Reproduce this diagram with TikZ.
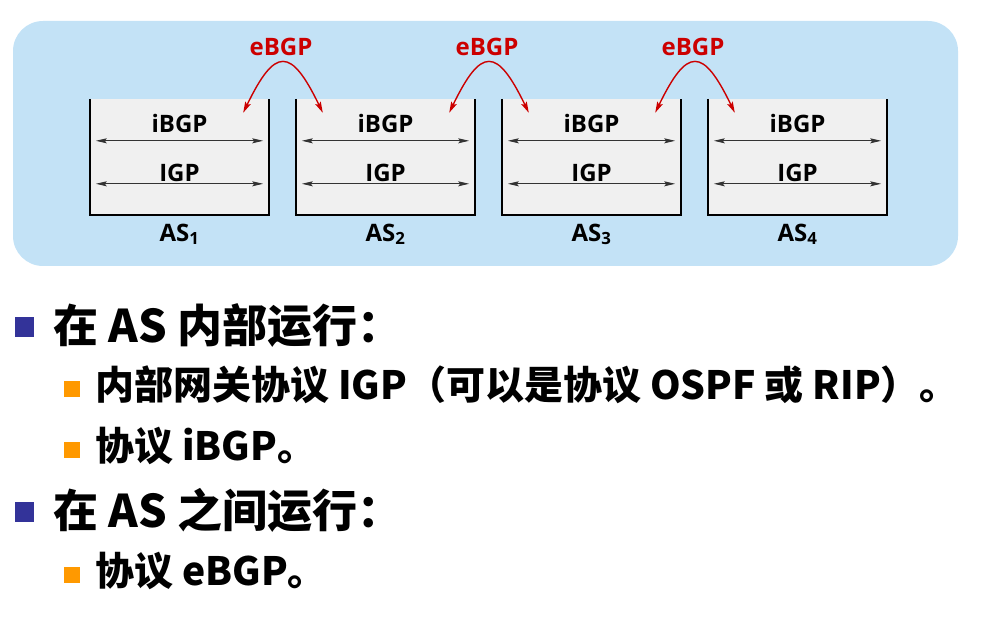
\documentclass[tikz,border=0pt]{standalone}
\usepackage{fontspec}
\newfontfamily\cjk{Noto Sans CJK SC}
\newfontfamily\diag{Open Sans}
\definecolor{asblue}{RGB}{195,226,246}
\definecolor{asgray}{RGB}{240,240,240}
\definecolor{asred}{RGB}{204,0,0}
\definecolor{asnavy}{RGB}{51,51,153}
\definecolor{asorange}{RGB}{255,153,0}
\usetikzlibrary{arrows.meta,calc}

\begin{document}
\begin{tikzpicture}[x=1pt, y=-1pt,
  asbox/.style={minimum width=179pt, minimum height=116pt, inner sep=0pt, fill=asgray},
  boxline/.style={black, line width=2pt},
  inarrow/.style={{Stealth[length=11pt,width=5pt,inset=2pt]}-{Stealth[length=11pt,width=5pt,inset=2pt]}, black!80, line width=0.9pt},
  ebgparrow/.style={{Stealth[length=11pt,width=6pt,inset=2pt]}-{Stealth[length=11pt,width=6pt,inset=2pt]}, asred, line width=1.4pt},
  protolabel/.style={font=\diag\bfseries\fontsize{24}{27}\selectfont, anchor=base, inner sep=0pt},
  lvlone/.style={font=\cjk\bfseries\fontsize{45}{54}\selectfont, anchor=base west, inner sep=0pt},
  lvltwo/.style={font=\cjk\bfseries\fontsize{39}{47}\selectfont, anchor=base west, inner sep=0pt},
  dotone/.style={fill=asnavy, minimum width=19pt, minimum height=20pt, inner sep=0pt},
  dottwo/.style={fill=asorange, minimum size=16pt, inner sep=0pt}]
  \useasboundingbox (0,0) rectangle (990,617);

  % Panel
  \fill[asblue, rounded corners=30pt] (13,21) rectangle (958,266);

  % AS boxes
  \foreach \i in {1,...,4} {
    \node[asbox] (as\i) at ({179.5+206*(\i-1)},157) {};
    \draw[boxline] (as\i.north west) -- (as\i.south west) -- (as\i.south east) -- (as\i.north east);
    \node[protolabel] (ib\i) at ($(as\i.north)+(0,34)$) {iBGP};
    \node[protolabel] (ig\i) at ($(as\i.north)+(0,83)$) {IGP};
    \coordinate (ibl\i) at ($(as\i.north west)+(6,42)$);
    \coordinate (ibr\i) at ($(as\i.north east)+(-6,42)$);
    \coordinate (igl\i) at ($(as\i.north west)+(6,85)$);
    \coordinate (igr\i) at ($(as\i.north east)+(-6,85)$);
    \draw[inarrow] (ibl\i) -- (ibr\i);
    \draw[inarrow] (igl\i) -- (igr\i);
    \node[protolabel] (asl\i) at ($(as\i.south)+(0,26)$) {AS\textsubscript{\i}};
  }

  % eBGP between neighbours
  \foreach \i/\j in {1/2,2/3,3/4} {
    \coordinate (el\i) at ($(as\i.north east)+(-26,14)$);
    \coordinate (er\i) at ($(as\j.north west)+(27,14)$);
    \draw[ebgparrow] (el\i) .. controls +(32,-66) and +(-32,-66) .. (er\i);
    \node[protolabel, text=asred] (eb\i) at ($(el\i)!0.5!(er\i)+(-2,-57)$) {eBGP};
  }

  % Bullet list
  \node[dotone] (d1) at (24.5,327) {};
  \node[lvlone] (t1) at (53,342) {在 AS 内部运行：};
  \node[dottwo] (d2) at (72,389) {};
  \node[lvltwo] (t2) at (95,399) {内部网关协议 IGP（可以是协议 OSPF 或 RIP）。};
  \node[dottwo] (d3) at (72,450) {};
  \node[lvltwo] (t3) at (95,460) {协议 iBGP。};
  \node[dotone] (d4) at (24.5,511.5) {};
  \node[lvlone] (t4) at (53,527) {在 AS 之间运行：};
  \node[dottwo] (d5) at (72,575) {};
  \node[lvltwo] (t5) at (95,585) {协议 eBGP。};
\end{tikzpicture}
\end{document}
